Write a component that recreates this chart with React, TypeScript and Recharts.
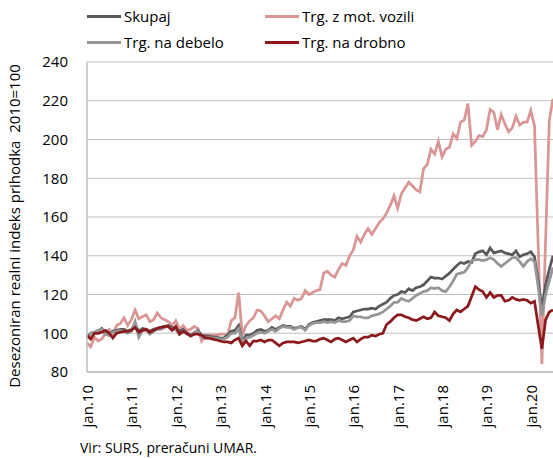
import React from "react";
import { LineChart, Line, XAxis, YAxis, CartesianGrid, Legend } from "recharts";

// monthly, jan 2010 .. jul 2020
const yearLabels = ["jan.10", "jan.11", "jan.12", "jan.13", "jan.14", "jan.15", "jan.16", "jan.17", "jan.18", "jan.19", "jan.20"];
const months: string[] = [];
for (let y = 2010; y <= 2020; y++) {
  for (let m = 1; m <= 12; m++) months.push(`${y}-${m < 10 ? "0" + m : m}`);
}
months.length = 127;

const yTicks = [80, 100, 120, 140, 160, 180, 200, 220, 240];

const skupaj = [
  98, 100, 100.5, 101, 102.5, 100, 99, 101, 101.5, 102, 102, 101,
  102, 105, 101, 102.5, 102, 101, 102, 102.5, 103, 103.5, 104, 103,
  102.5, 101, 102, 100, 99.5, 100, 101.5, 99, 98.5, 98.5, 98, 98,
  97.5, 97.5, 99, 101, 101.5, 104, 96, 99, 99, 100, 101.5, 102,
  101, 101.5, 103, 102, 103, 104, 103.5, 103.5, 102.5, 103, 103.5, 102,
  104.5, 105.5, 106, 106.5, 107, 107, 107, 106.5, 108, 107.5, 108, 108.5,
  111, 111.5, 112, 112.5, 112.5, 113, 112.5, 114, 115, 116, 118, 119.5,
  120, 121.5, 121, 123, 122, 123.5, 124, 125, 127, 129, 128.5, 128.5,
  128, 129.5, 131, 133, 135, 136.5, 136, 137, 136.5, 141, 142, 142.5,
  140.5, 144, 141.5, 142, 142.5, 141.5, 141, 140.5, 142.5, 139.5, 140.5, 141,
  142, 139.5, 127, 113, 125, 133, 140,
];

const motVozila = [
  95, 93, 98, 96, 97, 100, 102, 99.5, 104, 105, 108, 104,
  107, 112, 107.5, 108.5, 109.5, 106, 107, 110.5, 108, 107, 106, 104,
  106.5, 102, 104, 101.5, 102, 103.5, 102.5, 96, 99, 99, 99, 99,
  99.5, 99.5, 99, 106.5, 108, 121, 99, 104, 106.5, 108, 112, 111.5,
  109, 106, 107.5, 109, 107.5, 112, 116, 114, 118, 117, 118, 122,
  120, 121, 122, 122.5, 131, 132, 130, 129, 133, 136, 135, 140,
  143, 150, 147, 151, 154, 151, 154, 157, 159, 162, 166, 171,
  164.5, 172, 175, 178, 176, 174, 173, 185, 187, 195, 192.5, 199,
  191, 195, 196, 203, 200.5, 209, 210, 218.5, 197, 199, 202, 201.5,
  205, 215.5, 214, 205, 213, 208, 204, 206, 212, 207.5, 209, 209,
  215, 207, 145, 84, 148, 210, 221,
];

const debelo = [
  97.5, 100, 100.5, 101.5, 102, 99.5, 99, 100.5, 101, 101.5, 101, 100,
  101, 106, 98, 101.5, 101.5, 99.5, 101, 102, 102, 103, 103.5, 102,
  102, 99.5, 101, 99.5, 99, 100.5, 101, 98, 97.5, 98, 97.5, 97.5,
  97, 97, 98, 100, 100, 102.5, 95.5, 97.5, 98, 99, 100, 100.5,
  100, 101, 102, 101, 102.5, 103.5, 103, 103, 102, 103, 103, 101.5,
  104, 105, 105.5, 105.5, 106, 105.5, 106, 105.5, 106.5, 106, 106, 106.5,
  109, 108.5, 108.5, 108, 108, 109, 109.5, 110, 111, 112.5, 114, 116,
  116, 118, 117, 116.5, 118, 119.5, 120.5, 121.5, 122, 123.5, 123, 123.5,
  122, 121.5, 124, 127, 130.5, 131, 131.5, 134, 137.5, 138, 138, 137.5,
  138, 139, 138, 136, 134.5, 136, 137.5, 139, 139, 137, 134.5, 137,
  138.5, 137, 124, 109, 120, 127, 134,
];

const drobno = [
  99, 97, 100, 100, 100.5, 101.5, 100, 97.5, 100, 100.5, 101, 101,
  101.5, 103, 100.5, 101.5, 102, 100.5, 101.5, 102.5, 103, 103.5, 103.5, 101.5,
  103.5, 99.5, 101, 100, 98.5, 99.5, 99.5, 99, 97.5, 97.5, 97, 96.5,
  96, 95.5, 95.5, 95, 96.5, 97.5, 93.5, 96, 93.5, 96, 96, 96.5,
  95.5, 96.5, 96.5, 95, 93.5, 95, 95.5, 95.5, 95.5, 95, 95.5, 96,
  96.5, 96, 96, 97, 97.5, 96.5, 95.5, 97, 97.5, 96.5, 95.5, 96.5,
  97.5, 95.5, 97, 98, 98, 99, 98.5, 99.5, 100, 104.5, 106, 108,
  109.5, 109.5, 108.5, 108, 107, 106.5, 107.5, 108.5, 107.5, 108, 111, 109,
  108.5, 108, 106.5, 110, 112, 111, 112.5, 114, 119, 124, 122.5, 121.5,
  118.5, 121, 118.5, 119.5, 119.5, 116.5, 117, 118.5, 117.5, 117, 117.5, 117,
  115.5, 116.5, 104, 92, 107, 111, 112,
];

const data = months.map((month, i) => ({
  month,
  skupaj: skupaj[i],
  mot: motVozila[i],
  debelo: debelo[i],
  drobno: drobno[i],
}));

// drawing order: pink first, dark red last
const series = [
  { key: "mot", name: "Trg. z mot. vozili", color: "#d99694" },
  { key: "skupaj", name: "Skupaj", color: "#595959" },
  { key: "debelo", name: "Trg. na debelo", color: "#969696" },
  { key: "drobno", name: "Trg. na drobno", color: "#8c1a1d" },
];

const legendSlots = [
  { key: "skupaj", left: 87, top: 16 },
  { key: "mot", left: 265, top: 16 },
  { key: "debelo", left: 87, top: 42 },
  { key: "drobno", left: 265, top: 42 },
];

const FONT = '"Open Sans", sans-serif';
const GRID = "#bfbfbf";

function LegendBox() {
  return (
    <div style={{ position: "relative", width: 553, height: 58 }}>
      {legendSlots.map((slot) => {
        const s = series.find((x) => x.key === slot.key)!;
        return (
          <div
            key={slot.key}
            style={{
              position: "absolute",
              left: slot.left,
              top: slot.top,
              transform: "translateY(-50%)",
              display: "flex",
              alignItems: "center",
              fontSize: 15,
              color: "#000",
              whiteSpace: "nowrap",
            }}
          >
            <span style={{ display: "inline-block", width: 34, height: 3, background: s.color, marginRight: 3 }} />
            {s.name}
          </div>
        );
      })}
    </div>
  );
}

function XTick(props: any) {
  const { x, y, payload } = props;
  const label = yearLabels[Number(String(payload.value).slice(0, 4)) - 2010];
  return (
    <text
      x={x}
      y={y}
      transform={`rotate(-90 ${x} ${y})`}
      textAnchor="end"
      dy="0.4em"
      fontSize={15}
      fontFamily={FONT}
      fill="#000"
    >
      {label}
    </text>
  );
}

function YLabel() {
  return (
    <text
      x={14}
      y={226}
      transform="rotate(-90 14 226)"
      textAnchor="middle"
      dominantBaseline="central"
      fontSize={15}
      fontFamily={FONT}
      fill="#000"
      style={{ whiteSpace: "pre" }}
    >
      {"Desezoniran realni indeks prihodka  2010=100"}
    </text>
  );
}

export default function App() {
  return (
    <div style={{ position: "absolute", left: 0, top: 0, width: 553, height: 459, background: "#fff", fontFamily: FONT }}>
      <LineChart width={553} height={459} data={data} margin={{ top: 62, right: 0, bottom: 0, left: 0 }}>
        <CartesianGrid vertical={false} stroke={GRID} strokeWidth={1.2} />
        <XAxis
          dataKey="month"
          interval={11}
          tick={<XTick />}
          tickLine={false}
          tickSize={0}
          tickMargin={13}
          height={87}
          axisLine={{ stroke: GRID, strokeWidth: 1.5 }}
        />
        <YAxis
          domain={[80, 240]}
          ticks={yTicks}
          width={87}
          tickLine={false}
          tickSize={0}
          tickMargin={19}
          axisLine={{ stroke: GRID, strokeWidth: 1.5 }}
          tick={{ fontSize: 15, fill: "#000", fontFamily: FONT }}
          label={<YLabel />}
        />
        <Legend
          layout="horizontal"
          verticalAlign="middle"
          align="center"
          wrapperStyle={{ top: 0, left: 0, width: 553 }}
          content={() => <LegendBox />}
        />
        {series.map((s) => (
          <Line
            key={s.key}
            type="linear"
            dataKey={s.key}
            name={s.name}
            stroke={s.color}
            strokeWidth={2.75}
            dot={false}
            isAnimationActive={false}
          />
        ))}
      </LineChart>
      <div style={{ position: "absolute", left: 80, top: 438, fontSize: 14, color: "#000", whiteSpace: "nowrap" }}>
        Vir: SURS, preračuni UMAR.
      </div>
    </div>
  );
}
